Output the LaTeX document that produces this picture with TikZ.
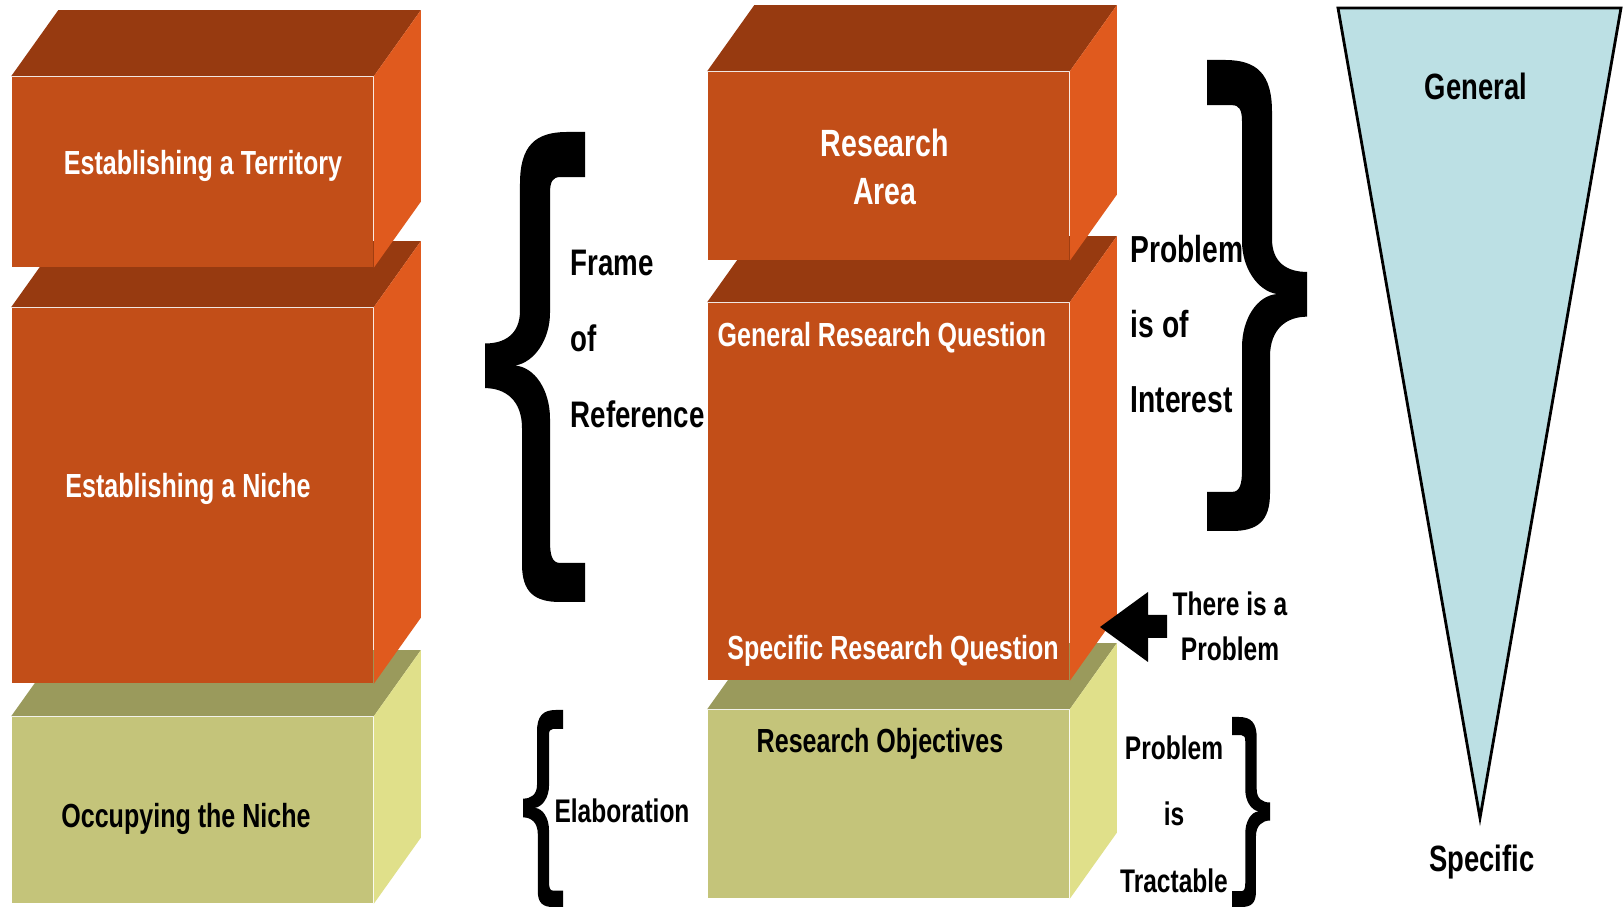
\documentclass[tikz,border=0pt]{standalone}
\usepackage{fontspec}
\usepackage{tikz}
\usetikzlibrary{calc}
\newfontfamily\narrowfont{Liberation Sans}[FakeStretch=0.75]
\definecolor{rustfront}{HTML}{C24E18}
\definecolor{rusttop}{HTML}{973A10}
\definecolor{rustside}{HTML}{E05A1E}
\definecolor{olivefront}{HTML}{C4C47A}
\definecolor{olivetop}{HTML}{9A9A5C}
\definecolor{oliveside}{HTML}{E0E08A}
\definecolor{funnelblue}{HTML}{BCE0E4}

\begin{document}
\begin{tikzpicture}[x=0.01cm,y=-0.01cm,
  face/.style={rectangle,inner sep=0,minimum width=3.61cm},
  boxtext/.style={inner sep=0,anchor=base,font=\narrowfont\bfseries\fontsize{9.5}{11}\selectfont},
  sidetext/.style 2 args={inner sep=0,font=\narrowfont\bfseries\fontsize{#1}{#2}\selectfont},
  curlyshape/.style={insert path={(1,0) -- (0.82,0) .. controls (0.5,0) and (0.35,0.03) .. (0.35,0.11)
    -- (0.35,0.38) .. controls (0.35,0.43) and (0.2,0.45) .. (0,0.45) -- (0,0.545)
    .. controls (0.2,0.545) and (0.37,0.57) .. (0.37,0.63) -- (0.37,0.92)
    .. controls (0.37,0.98) and (0.5,1) .. (0.75,1) -- (1,1) -- (1,0.917) -- (0.75,0.917)
    .. controls (0.67,0.917) and (0.65,0.9) .. (0.65,0.87) -- (0.65,0.61)
    .. controls (0.65,0.55) and (0.5,0.5) .. (0.3,0.497) .. controls (0.5,0.49) and (0.65,0.44) .. (0.65,0.385)
    -- (0.65,0.13) .. controls (0.65,0.105) and (0.68,0.096) .. (0.75,0.096) -- (1,0.096) -- cycle}}]

\path[use as bounding box,fill=white] (0,0) rectangle (1623,910);

% Left column
\node (occupy) at (192.5,810) [face,fill=olivefront,minimum height=1.86cm] {};
\fill[olivetop] (occupy.north west) -- ++(47,-66) -- ($(occupy.north east)+(47,-66)$) -- (occupy.north east) -- cycle;
\fill[oliveside] (occupy.north east) -- ++(47,-66) -- ($(occupy.south east)+(47,-66)$) -- (occupy.south east) -- cycle;
\node (niche) at (192.5,495.5) [face,fill=rustfront,minimum height=3.75cm] {};
\fill[rusttop] (niche.north west) -- ++(47,-66) -- ($(niche.north east)+(47,-66)$) -- (niche.north east) -- cycle;
\fill[rustside] (niche.north east) -- ++(47,-66) -- ($(niche.south east)+(47,-66)$) -- (niche.south east) -- cycle;
\node (territory) at (192.5,172) [face,fill=rustfront,minimum height=1.9cm] {};
\fill[rusttop] (territory.north west) -- ++(47,-66) -- ($(territory.north east)+(47,-66)$) -- (territory.north east) -- cycle;
\fill[rustside] (territory.north east) -- ++(47,-66) -- ($(territory.south east)+(47,-66)$) -- (territory.south east) -- cycle;

% Middle column
\node (objectives) at (888.5,804) [face,fill=olivefront,minimum height=1.88cm] {};
\fill[olivetop] (objectives.north west) -- ++(47,-66) -- ($(objectives.north east)+(47,-66)$) -- (objectives.north east) -- cycle;
\fill[oliveside] (objectives.north east) -- ++(47,-66) -- ($(objectives.south east)+(47,-66)$) -- (objectives.south east) -- cycle;
\node (question) at (888.5,491.5) [face,fill=rustfront,minimum height=3.77cm] {};
\fill[rusttop] (question.north west) -- ++(47,-66) -- ($(question.north east)+(47,-66)$) -- (question.north east) -- cycle;
\fill[rustside] (question.north east) -- ++(47,-66) -- ($(question.south east)+(47,-66)$) -- (question.south east) -- cycle;
\node (area) at (888.5,166) [face,fill=rustfront,minimum height=1.88cm] {};
\fill[rusttop] (area.north west) -- ++(47,-66) -- ($(area.north east)+(47,-66)$) -- (area.north east) -- cycle;
\fill[rustside] (area.north east) -- ++(47,-66) -- ($(area.south east)+(47,-66)$) -- (area.south east) -- cycle;

% Box labels
\node (territorytext) at (203,175) [boxtext,text=white] {Establishing a Territory};
\node (nichetext) at (188,498) [boxtext,text=white] {Establishing a Niche};
\node (occupytext) at (186,828) [boxtext] {Occupying the Niche};
\node (areatext) at (885,128) [sidetext={10.8}{13.7},anchor=north,align=center,text=white] {Research\\Area};
\node (generaltext) at (882,347) [boxtext,text=white] {General Research Question};
\node (specifictext) at (893,660) [boxtext,text=white] {Specific Research Question};
\node (objectivestext) at (880,753) [boxtext] {Research Objectives};

% Braces
\fill[black,shift={(485,132)},xscale=100,yscale=470,curlyshape];
\fill[black,shift={(523,710)},xscale=40,yscale=197,curlyshape];
\fill[black,shift={(1307,60)},xscale=-100,yscale=471,curlyshape];
\fill[black,shift={(1270,717)},xscale=-38,yscale=190,curlyshape];
\node (frametext) at (570,249) [sidetext={10.5}{21.6},anchor=north west,align=left] {Frame\\of\\Reference};
\node (elaborationtext) at (622,823) [sidetext={9.3}{11},anchor=base] {Elaboration};
\node (interesttext) at (1130,235) [sidetext={10.7}{21.3},anchor=north west,align=left] {Problem\\is of\\Interest};
\node (tractabletext) at (1174,735) [sidetext={9.3}{18.9},anchor=north,align=center] {Problem\\is\\Tractable};

% Problem arrow
\coordinate (arrowtip) at (1100,627);
\fill[black] (arrowtip) -- ++(48,-35) -- ++(0,23) -- ++(19,0) -- ++(0,23) -- ++(-19,0) -- ++(0,24) -- cycle;
\node (problemtext) at (1230,591) [sidetext={9.3}{12.8},anchor=north,align=center] {There is a\\Problem};

% Funnel
\coordinate (wideleft) at (1338,8);
\coordinate (wideright) at (1621,8);
\coordinate (narrowtip) at (1480,818);
\draw[line width=0.8pt,fill=funnelblue] (wideleft) -- (wideright) -- (narrowtip) -- cycle;
\node (widetext) at (1476,100) [sidetext={10.4}{12},anchor=base] {General};
\node (narrowtext) at (1482,872) [sidetext={10.4}{12},anchor=base] {Specific};
\end{tikzpicture}
\end{document}
